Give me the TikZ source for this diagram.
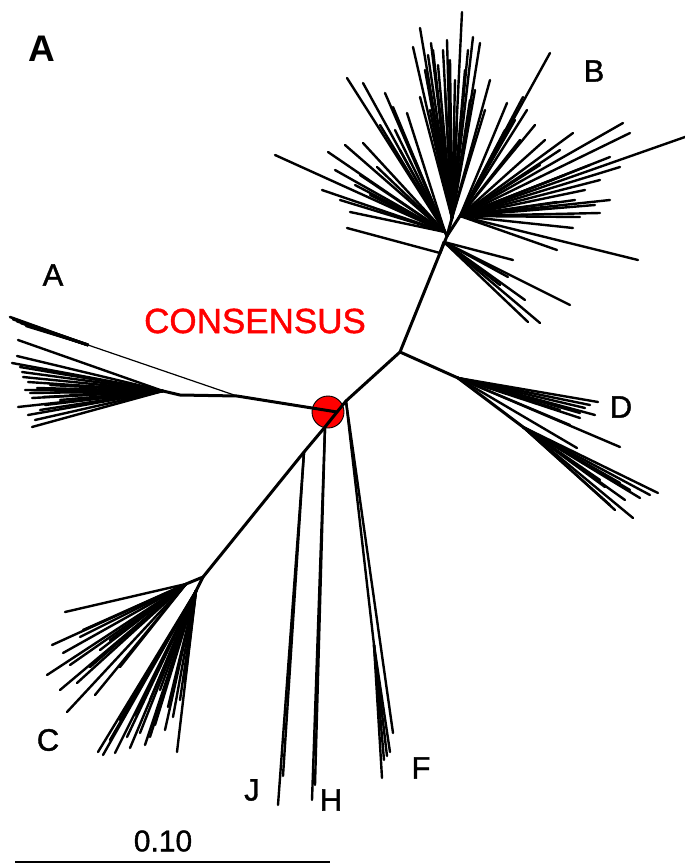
\documentclass[tikz,border=0pt]{standalone}
\usepackage{fontspec}
\setmainfont{Liberation Sans}
\newfontfamily\medfont{Liberation Sans}[FakeBold=1.2]
\begin{document}
\begin{tikzpicture}[x=1pt,y=-1pt,
  br/.style={line width=3pt,line cap=round},
  lf/.style={line width=2.4pt,line cap=round},
  thinbr/.style={line width=1.2pt,line cap=round},
  lab/.style={font=\medfont\fontsize{31}{31}\selectfont,inner sep=0pt}]
\useasboundingbox (0,0) rectangle (685,867);
% consensus circle
\node[circle,fill=red,draw=black,line width=0.9pt,minimum size=32pt,inner sep=0pt] (cons) at (328,412) {};
% internal nodes
\coordinate (P) at (346,401);
\coordinate (JA) at (337,412);
\coordinate (JH) at (325,427);
\coordinate (JJ) at (304,452);
\coordinate (UR) at (400,352);
\coordinate (T1) at (440,253);
\coordinate (BD) at (444,242);
\coordinate (Bh) at (447,236);
\coordinate (BL) at (445,232);
\coordinate (BU) at (452,218);
\coordinate (BR) at (460,216);
\coordinate (Dn) at (458,378);
\coordinate (D2) at (523,427);
\coordinate (Cn) at (203,577);
\coordinate (Cu) at (186,584);
\coordinate (Cl) at (196,591);
\coordinate (An0) at (237,396);
\coordinate (An1) at (180,395);
\coordinate (An2) at (163,391);
\coordinate (Aw) at (88,345);
\coordinate (Fn) at (374,645);
% main branches
\draw[br] (P) -- (UR) -- (T1) -- (Bh);
\draw[br] (Bh) -- (BL);
\draw[br] (Bh) -- (BU);
\draw[br] (Bh) -- (BR);
\draw[br] (T1) -- (BD);
\draw[br] (UR) -- (Dn) -- (D2);
\draw[br] (P) -- (JA) -- (JH) -- (JJ) -- (Cn);
\draw[br] (Cn) -- (Cu);
\draw[br] (Cn) -- (Cl);
\draw[br] (JA) -- (An0) -- (An1) -- (An2);
\draw[thinbr] (An0) -- (Aw);
\draw[lf] (P) -- (393,733);
\draw[lf] (P) -- (Fn);
\draw[lf] (T1) -- (347,228);
% B cluster
\foreach \x/\y in {275/155,347/78,363/83,385/93,393/107,407/113,328/152,345/145,363/143,322/190,350/212,377/167,335/170,355/185,370/195,395/130,380/125,400/150,415/160,340/200,360/175}
  \draw[lf] (BL) -- (\x,\y);
\foreach \x/\y in {462/12,420/28,413/47,431/43,433/50,443/50,473/37,468/50,480/43,490/80,420/97,457/123,425/70,438/65,450/60,455/80,445/90,465/70,475/90,485/110,430/110,440/120,428/55,447/40,470/100}
  \draw[lf] (BU) -- (\x,\y);
\foreach \x/\y in {550/53,507/103,523/97,527/110,573/133,623/123,630/133,685/137,620/167,610/157,600/213,573/228,557/202,580/217,515/120,535/125,545/140,560/150,590/165,600/180,585/190,540/165,610/200,595/205,638/260,557/250,520/140,505/130,565/175,575/200}
  \draw[lf] (BR) -- (\x,\y);
\foreach \x/\y in {540/323,528/322,570/305,513/260,508/277,525/300,500/285}
  \draw[lf] (BD) -- (\x,\y);
% D cluster
\foreach \x/\y in {598/402,590/405,585/408,580/413,580/418,620/447,577/448,595/415,570/425,560/410}
  \draw[lf] (Dn) -- (\x,\y);
\foreach \x/\y in {658/493,650/495,633/518,610/505,620/483,605/487,640/498,625/500,615/510,600/480,630/490}
  \draw[lf] (D2) -- (\x,\y);
% C cluster
\foreach \x/\y in {65/612,52/645,47/675,67/712,63/653,80/637,77/683,90/667,120/667,83/630,100/650,110/640,70/665,60/690,95/695}
  \draw[lf] (Cu) -- (\x,\y);
\foreach \x/\y in {98/752,103/755,115/753,110/740,127/737,140/733,150/737,168/707,177/752,173/717,120/720,135/715,150/700,160/690,165/730,145/745,130/748,155/725,180/700,185/680}
  \draw[lf] (Cl) -- (\x,\y);
% A cluster
\foreach \x/\y in {18/340,17/356,12/363,20/367,22/372,23/377,28/382,37/388,30/393,32/398,18/407,28/415,32/427,43/397,50/385,60/400,45/405,40/410,55/392,70/395,25/390,35/420}
  \draw[lf] (An2) -- (\x,\y);
\foreach \x/\y/\w in {10/317/2.6,13/319/3,17/321/3,21/323/2.8,26/326/2.4}
  \draw[line width=\w pt,line cap=round] (Aw) -- (\x,\y);
% J, H, F
\draw[lf] (JJ) -- (278,805);
\draw[lf] (JJ) -- (283,776);
\draw[lf] (JH) -- (312,800);
\draw[lf] (JH) -- (315,785);
\foreach \x/\y in {390/752,387/756,384/760,382/778}
  \draw[lf] (Fn) -- (\x,\y);
% labels
\node[font=\bfseries\fontsize{37}{37}\selectfont,inner sep=0pt] (panel) at (42,49) {A};
\node[lab] (labA) at (53,275) {A};
\node[lab] (labB) at (594,71) {B};
\node[lab] (labD) at (621,407) {D};
\node[lab] (labC) at (48,740) {C};
\node[lab] (labJ) at (252,790) {J};
\node[lab] (labH) at (331,800) {H};
\node[lab] (labF) at (421,768) {F};
\node[font=\medfont\fontsize{35}{35}\selectfont,text=red,inner sep=0pt] (consL) at (255,321) {CONSENSUS};
% scale bar
\coordinate (s1) at (15,862);
\coordinate (s2) at (330,862);
\draw[line width=2.6pt] (s1) -- (s2);
\node[font=\medfont\fontsize{30}{30}\selectfont,inner sep=0pt] (sc) at (163,841) {0.10};
\end{tikzpicture}
\end{document}
